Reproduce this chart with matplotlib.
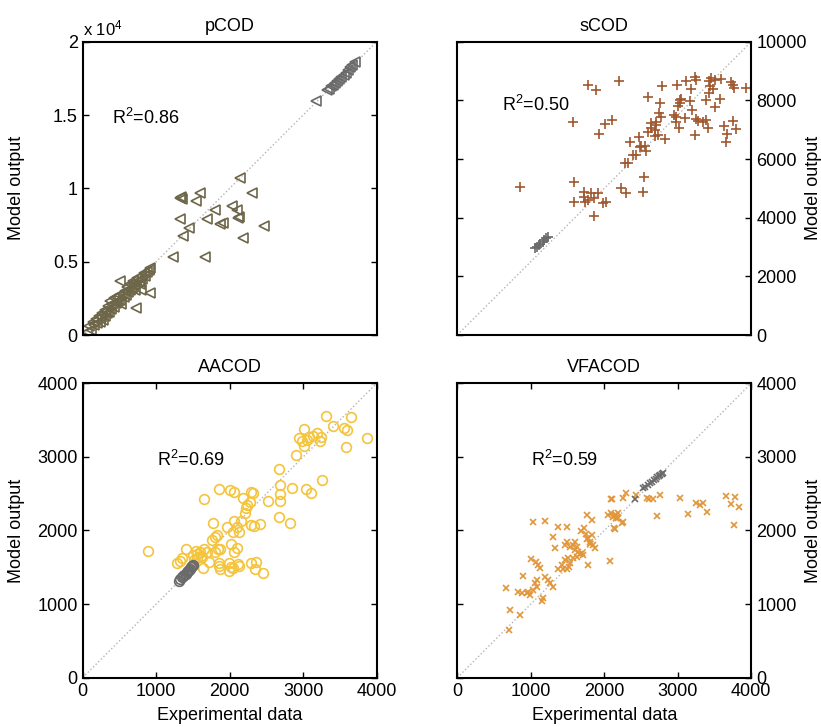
"""Model output vs experimental data for the four COD fractions."""

import matplotlib
matplotlib.use("Agg")
import matplotlib.pyplot as plt

plt.rcParams.update({"font.family": "Liberation Sans", "font.size": 13,
                     "mathtext.fontset": "custom",
                     "mathtext.rm": "Liberation Sans",
                     "mathtext.it": "Liberation Sans:italic"})

C = dict(p="#6e6649", s="#a0582f", aa="#f4c43c", vfa="#e2963b",
         grey="#6a6a6a", diag="#b4b4b4")

# ---- pCOD ----
pcod_x = [10703, 11542, 6667, 6600, 6780, 7982, 7710, 9002, 10181, 10476,
          10658, 6621, 7256, 6803, 8435, 9342, 9569, 10884, 12358, 6168,
          8322, 10587,
          300, 450, 600, 700, 800, 900, 1000, 1100, 1150, 1250, 1300, 1400,
          1500, 1550, 1650, 1700, 1800, 1850, 1950, 2000, 2100, 2150, 2250,
          2300, 2400, 2450, 2550, 2600, 2700, 2800, 2850, 2950, 3000, 3100,
          3200, 3250, 3350, 3400, 3500, 3550, 3650, 3700, 3800, 3900, 3950,
          4050, 4150, 4250, 4350, 4500, 4600, 2517, 4558, 3651, 3991]
pcod_y = [10727, 9705, 9386, 9320, 9250, 9659, 9136, 8523, 8795, 8523,
          8068, 7886, 7273, 6750, 7886, 7568, 7659, 6636, 7432, 5295,
          5295, 7958,
          200, 600, 350, 900, 650, 1100, 800, 1300, 900, 1200, 1500, 1000,
          1700, 1300, 1500, 2000, 1600, 2300, 1800, 2100, 2500, 1900, 2200,
          2600, 2300, 2700, 2400, 2100, 2800, 2600, 3000, 2700, 3300, 2900,
          3100, 3500, 3200, 3700, 3400, 3100, 3600, 3900, 3700, 3500, 4000,
          3800, 4200, 4000, 4300, 4400, 4600, 3705, 2886, 1818, 3068]
pcod_gx = [15900, 16600, 16750, 16900, 17000, 17150, 17300, 17450, 17600,
           17750, 17900, 18050, 18200, 18350, 18500]
pcod_gy = [15950, 16700, 16800, 16950, 17050, 17200, 17300, 17450, 17600,
           17750, 17900, 18050, 18250, 18400, 18600]

# ---- sCOD ----
scod_x = [2129, 4451, 4734, 5493, 3941, 4824, 5017, 5266, 3975, 3975, 4315,
          4315, 4451, 4564, 4643, 4790, 4960, 5051, 4337, 4643, 5583, 5730,
          5696, 5810, 5866, 6093, 6183, 6263, 6376, 6342, 6319, 6489, 6432,
          6602, 6749, 6863, 6920, 6829, 6716, 7056, 6489, 6885, 6976, 7474,
          7508, 7587, 7429, 7451, 7542, 7735, 7769, 7961, 7905, 7984, 8075,
          8131, 8109, 8188, 8075, 8471, 8528, 8562, 8607, 8562, 8471, 8698,
          8754, 8924, 8958, 8754, 9298, 9377, 9400, 9830, 9071, 9184, 9128,
          9377, 9468, 7622, 6580, 6772, 6738, 7373, 7565, 8358, 8641, 5980,
          6206]
scod_y = [5057, 8523, 8352, 8670, 7250, 6841, 7182, 7330, 5227, 4545, 4864,
          4716, 4602, 4830, 4659, 4830, 4489, 4545, 4545, 4057, 5000, 4852,
          5875, 5875, 6591, 6136, 6739, 6443, 6443, 5398, 4886, 6920, 6284,
          7068, 7273, 7557, 7443, 6818, 6784, 6670, 8102, 7920, 8489, 8523,
          7807, 8011, 7420, 7250, 7068, 7409, 8670, 8375, 7977, 7670, 8784,
          8693, 7352, 7295, 6818, 7330, 7045, 8648, 8489, 8239, 8011, 8375,
          8693, 8034, 8716, 7784, 8636, 8523, 8409, 8409, 7136, 6841, 6568,
          7307, 7011, 8045, 7239, 7159, 6989, 7500, 7898, 7273, 8750, 6136,
          6420]
scod_gx = [2639, 2700, 2770, 2830, 2900, 2960, 3030, 3092]
scod_gy = [2955, 3010, 3070, 3120, 3180, 3240, 3300, 3352]

# ---- AACOD ----
aacod_x = [893, 1651, 1850, 2000, 2063, 2177, 2231, 2218, 2277, 2290, 2313,
           2209, 2526, 2676, 2685, 2685, 2685, 2676, 2844, 3039, 3111, 3261,
           2816, 2902, 2943, 3016, 2989, 3016, 3075, 3052, 3129, 3188, 3238,
           3234, 3315, 3401, 3551, 3592, 3655, 3578, 3873, 1773, 1959, 2059,
           2104, 2154, 2127, 2050, 2290, 2327, 2413, 1796, 1823, 1755, 1805,
           1837, 1868, 2023, 2059, 2104, 1406, 1279, 1347, 1324, 1542, 1596,
           1651, 1687, 1619, 1551, 1506, 1719, 1633, 1859, 1850, 1873, 1991,
           2014, 1986, 2050, 2113, 2132, 2290, 2358, 2349, 2449, 1520, 1560,
           1610]
aacod_y = [1726, 2424, 2564, 2550, 2528, 2446, 2347, 2310, 2387, 2528, 2514,
           2233, 2405, 2831, 2618, 2492, 2401, 2188, 2582, 2569, 2514, 2686,
           2097, 3026, 3262, 3379, 3221, 3153, 3266, 3230, 3289, 3320, 3266,
           3216, 3561, 3420, 3397, 3366, 3547, 3135, 3257, 2097, 2048, 2129,
           2048, 2129, 1984, 1984, 2070, 2066, 2088, 1916, 1939, 1871, 1712,
           1744, 1749, 1812, 1712, 1767, 1744, 1554, 1622, 1585, 1726, 1712,
           1744, 1712, 1644, 1622, 1667, 1576, 1486, 1518, 1554, 1477, 1554,
           1508, 1450, 1495, 1540, 1518, 1554, 1567, 1477, 1418, 1600, 1680,
           1660]
aacod_gx = [1311, 1330, 1350, 1370, 1385, 1400, 1415, 1430, 1445, 1460,
            1475, 1490, 1506]
aacod_gy = [1318, 1340, 1362, 1385, 1400, 1415, 1432, 1450, 1466, 1482,
            1498, 1515, 1531]

# ---- VFACOD ----
vfacod_x = [702, 716, 852, 657, 897, 829, 874, 942, 965, 988, 1001, 1033,
            1065, 1101, 1123, 1078, 1055, 1078, 1033, 1146, 1169, 1191, 1191,
            1237, 1259, 1305, 1305, 1327, 1373, 1373, 1418, 1499, 1486, 1463,
            1531, 1472, 1509, 1441, 1486, 1531, 1518, 1599, 1577, 1622, 1599,
            1645, 1667, 1690, 1712, 1577, 1622, 1680, 1720, 1750, 1780, 1810,
            1840, 1871, 1760, 1800, 1830, 1771, 1826, 1780, 2075, 2097, 2052,
            2097, 2143, 2188, 2166, 2256, 2134, 2256, 2292, 2582, 2106, 2437,
            2609, 2664, 2754, 2718, 3026, 3139, 3252, 3298, 3343, 3397, 3660,
            3782, 3728, 3832, 3764, 2120, 2156, 2188, 2247, 2143]
vfacod_y = [648, 920, 852, 1223, 1386, 1169, 1146, 1146, 1169, 1123, 1613,
            2120, 1576, 1531, 1486, 1327, 1282, 1237, 1191, 1046, 1078, 2129,
            1373, 1327, 1282, 1237, 1916, 1758, 2052, 1472, 1531, 2052, 1848,
            1803, 1780, 1599, 1622, 1472, 1472, 1554, 1499, 1848, 1803, 1780,
            1735, 1712, 1681, 1690, 1667, 1622, 1644, 1990, 2029, 1950, 1900,
            1850, 1800, 1760, 1880, 1820, 1940, 2211, 2143, 1531, 1585, 2428,
            2211, 2233, 2211, 2233, 2165, 2120, 2029, 2437, 2505, 2437, 2428,
            2482, 2428, 2428, 2482, 2197, 2446, 2224, 2369, 2347, 2369, 2256,
            2469, 2451, 2360, 2315, 2075, 2188, 2211, 2165, 2097, 2016]
vfacod_gx = [2414, 2528, 2560, 2590, 2620, 2650, 2680, 2700, 2720, 2740,
             2760, 2780, 2800]
vfacod_gy = [2424, 2573, 2590, 2615, 2640, 2660, 2690, 2700, 2720, 2735,
             2750, 2765, 2777]

PANELS = [
    # title, x, y, grey x, grey y, marker, colour, limit, R2, R2 position
    ("pCOD", pcod_x, pcod_y, pcod_gx, pcod_gy, "<", C["p"], 20000, "0.86",
     (1973, 14780)),
    ("sCOD", scod_x, scod_y, scod_gx, scod_gy, "+", C["s"], 10000, "0.50",
     (1510, 7840)),
    ("AACOD", aacod_x, aacod_y, aacod_gx, aacod_gy, "o", C["aa"], 4000,
     "0.69", (1007, 2958)),
    ("VFACOD", vfacod_x, vfacod_y, vfacod_gx, vfacod_gy, "x", C["vfa"], 4000,
     "0.59", (997, 2958)),
]
RECTS = [[0.1007, 0.5392, 0.3581, 0.4034], [0.5570, 0.5392, 0.3581, 0.4034],
         [0.1007, 0.0678, 0.3581, 0.4050], [0.5570, 0.0678, 0.3581, 0.4050]]
MS = {"<": 7, "+": 6.5, "o": 7, "x": 5}

fig = plt.figure(figsize=(8.21, 7.27), dpi=100)
for i, (title, x, y, gx, gy, mk, col, lim, r2, r2pos) in enumerate(PANELS):
    ax = fig.add_axes(RECTS[i])
    ax.plot([0, lim], [0, lim], ":", color=C["diag"], lw=1)
    ax.plot(x, y, mk, ls="none", ms=MS[mk], mfc="none", mec=col, mew=1.2)
    ax.plot(gx, gy, mk, ls="none", ms=MS[mk], mfc="none", mec=C["grey"],
            mew=1.2)
    ax.set_xlim(0, lim)
    ax.set_ylim(0, lim)
    ax.set_title(title, fontsize=13, pad=8)
    ax.text(*r2pos, "R$^2$=" + r2, ha="left", va="center", fontsize=13)
    ax.tick_params(direction="in", length=4, width=1, labelsize=13,
                   top=True, right=True)
    for sp in ax.spines.values():
        sp.set_linewidth(1.5)
    right = i % 2 == 1
    ax.set_ylabel("Model output", fontsize=13)
    if right:
        ax.tick_params(labelleft=False, labelright=True)
        ax.yaxis.set_label_position("right")
        ax.yaxis.set_label_coords(1.181, 0.5)
    else:
        ax.yaxis.set_label_coords(-0.196, 0.5)
    if i < 2:
        ax.set_xticks([])
    else:
        ax.set_xticks(range(0, lim + 1, 1000))
        ax.set_xlabel("Experimental data", fontsize=13, labelpad=5)
    if i == 0:
        ax.set_yticks(range(0, 20001, 5000))
        ax.set_yticklabels(["0", "0.5", "1", "1.5", "2"])
        ax.text(0, 1.012, "x 10$^4$", transform=ax.transAxes, ha="left",
                va="bottom", fontsize=12)
    elif i == 1:
        ax.set_yticks(range(0, 10001, 2000))
    else:
        ax.set_yticks(range(0, 4001, 1000))

fig.savefig("out.png", dpi=100)
